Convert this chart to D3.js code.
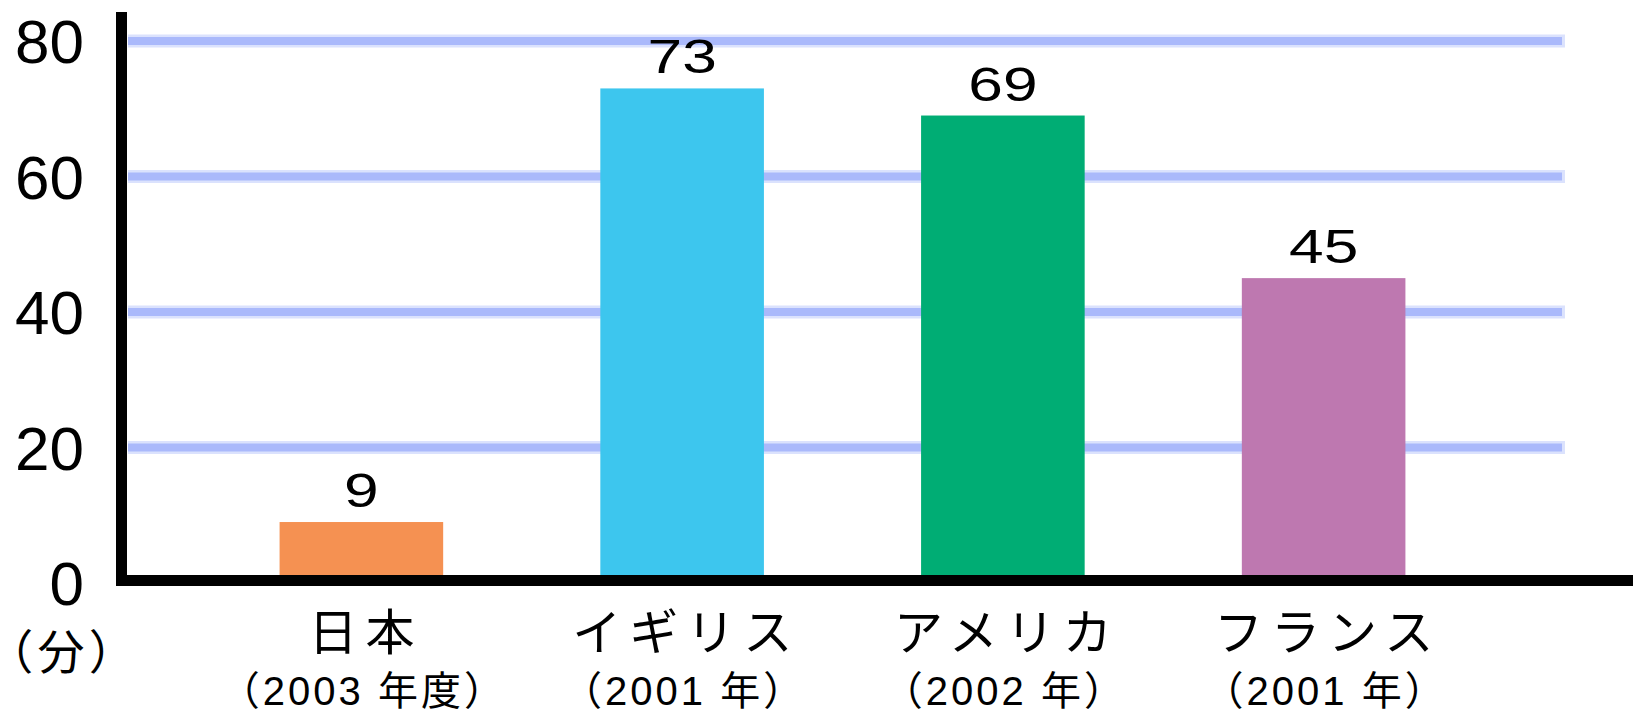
<!DOCTYPE html>
<html>
<head>
<meta charset="utf-8">
<script src="https://cdn.jsdelivr.net/npm/d3@7"></script>
<style>
  html, body { margin: 0; padding: 0; background: #fff; }
  svg { display: block; }
  text { fill: #000; }
</style>
</head>
<body>
<svg id="chart" width="1633" height="713"></svg>
<script>
// ---- data ----
const categories = ["日本", "イギリス", "アメリカ", "フランス"];
const years = ["（2003 年度）", "（2001 年）", "（2002 年）", "（2001 年）"];
const values = [9, 73, 69, 45];
const colors = ["#f59152", "#3dc6ee", "#00ad74", "#be78b0"];
const yTicks = [0, 20, 40, 60, 80];
const unitLabel = "（分）";

const svg = d3.select("#chart");
const latin = "'Liberation Sans', Arial, 'Noto Sans CJK JP', sans-serif";

const x = d3.scaleBand()
  .domain(categories)
  .range([201, 1484])
  .paddingInner(0.49)
  .paddingOuter(0.245);

const y = d3.scaleLinear().domain([0, 80]).range([583, 41]);

// gridlines
const grid = svg.append("g");
const gridTicks = yTicks.filter(t => t > 0);
grid.selectAll("line.outer").data(gridTicks).join("line")
  .attr("class", "outer")
  .attr("x1", 128).attr("x2", 1565)
  .attr("y1", d => y(d)).attr("y2", d => y(d))
  .attr("stroke", "#dbe2fd").attr("stroke-width", 13);
grid.selectAll("line.inner").data(gridTicks).join("line")
  .attr("class", "inner")
  .attr("x1", 128).attr("x2", 1562)
  .attr("y1", d => y(d)).attr("y2", d => y(d))
  .attr("stroke", "#aab9fb").attr("stroke-width", 8);

// bars
svg.append("g").selectAll("rect").data(values).join("rect")
  .attr("x", (d, i) => x(categories[i]))
  .attr("width", x.bandwidth())
  .attr("y", d => y(d))
  .attr("height", d => y(0) - y(d))
  .attr("fill", (d, i) => colors[i]);

// value labels
svg.append("g").selectAll("text").data(values).join("text")
  .attr("transform", (d, i) => `translate(${x(categories[i]) + x.bandwidth() / 2},${y(d) - 15}) scale(1.27,1)`)
  .attr("text-anchor", "middle")
  .style("font-family", latin)
  .style("font-size", "49px")
  .text(d => d);

// axis lines
svg.append("line")
  .attr("x1", 121.5).attr("x2", 121.5)
  .attr("y1", 12).attr("y2", 586)
  .attr("stroke", "#000").attr("stroke-width", 11);
svg.append("line")
  .attr("x1", 116).attr("x2", 1633)
  .attr("y1", 580.5).attr("y2", 580.5)
  .attr("stroke", "#000").attr("stroke-width", 11);

// y axis labels
const yAxis = svg.append("g")
  .attr("transform", "translate(84,0)")
  .call(d3.axisLeft(y).tickValues(yTicks).tickSize(0).tickPadding(0).tickFormat(d3.format("d")));
yAxis.select(".domain").remove();
yAxis.selectAll("text")
  .attr("dy", "0.35em")
  .style("font-family", latin)
  .style("font-size", "62px")
  .style("fill", "#000");

// unit label
svg.append("text")
  .attr("x", 64).attr("y", 669)
  .attr("text-anchor", "middle")
  .style("font-family", "'Noto Sans CJK JP', sans-serif")
  .style("font-size", "47px")
  .style("font-feature-settings", "'palt' 1")
  .style("letter-spacing", "6px")
  .text(unitLabel);

// x axis category labels
const xAxis = svg.append("g")
  .call(d3.axisBottom(x).tickSize(0).tickPadding(0));
xAxis.select(".domain").remove();
xAxis.selectAll(".tick text").each(function(d, i) {
  const t = d3.select(this);
  t.text(null).attr("y", 0).attr("dy", null);
  t.append("tspan")
    .attr("x", 4).attr("y", 650)
    .style("font-family", "'Noto Sans CJK JP', sans-serif")
    .style("font-size", "49px")
    .style("letter-spacing", "8px")
    .text(categories[i]);
  t.append("tspan")
    .attr("x", 2).attr("y", 705)
    .style("font-family", latin)
    .style("font-size", "40px")
    .style("letter-spacing", "3px")
    .text(years[i]);
});
xAxis.selectAll("text").style("fill", "#000");
</script>
</body>
</html>
